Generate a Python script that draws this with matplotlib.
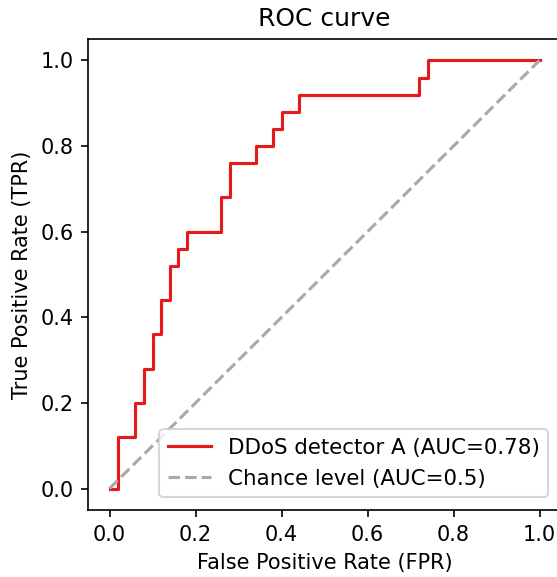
import matplotlib
matplotlib.use('Agg')
import matplotlib.pyplot as plt
import numpy as np

# ROC step points (25 positives, 50 negatives)
fpr = [0.00, 0.02, 0.02, 0.06, 0.06, 0.08, 0.08, 0.10, 0.10, 0.12, 0.12,
       0.14, 0.14, 0.16, 0.16, 0.18, 0.18, 0.26, 0.26, 0.28, 0.28, 0.34,
       0.34, 0.38, 0.38, 0.40, 0.40, 0.44, 0.44, 0.72, 0.72, 0.74, 0.74, 1.00]
tpr = [0.00, 0.00, 0.12, 0.12, 0.20, 0.20, 0.28, 0.28, 0.36, 0.36, 0.44,
       0.44, 0.52, 0.52, 0.56, 0.56, 0.60, 0.60, 0.68, 0.68, 0.76, 0.76,
       0.80, 0.80, 0.84, 0.84, 0.88, 0.88, 0.92, 0.92, 0.96, 0.96, 1.00, 1.00]
chance = [0.0, 1.0]

auc = np.trapezoid(tpr, fpr)

DPI = 150
fig = plt.figure(figsize=(557 / DPI, 577 / DPI), dpi=DPI)
ax = fig.add_axes([88 / 557, 67 / 577, 473 / 557, 471 / 577])

ax.plot(fpr, tpr, color='#e41a1c', lw=1.5, label=f'DDoS detector A (AUC={auc:.2f})')
ax.plot(chance, chance, color='#aaaaaa', lw=1.5, linestyle='--', label='Chance level (AUC=0.5)')

ax.set_xlim(-0.05, 1.05)
ax.set_ylim(-0.05, 1.05)
ax.set_xticks(np.arange(0, 1.01, 0.2))
ax.set_yticks(np.arange(0, 1.01, 0.2))
ax.set_xlabel('False Positive Rate (FPR)')
ax.set_ylabel('True Positive Rate (TPR)')
ax.set_title('ROC curve')
ax.legend(loc='lower right', fontsize=10.25, borderaxespad=0.6)

fig.savefig('out.png', dpi=DPI)
